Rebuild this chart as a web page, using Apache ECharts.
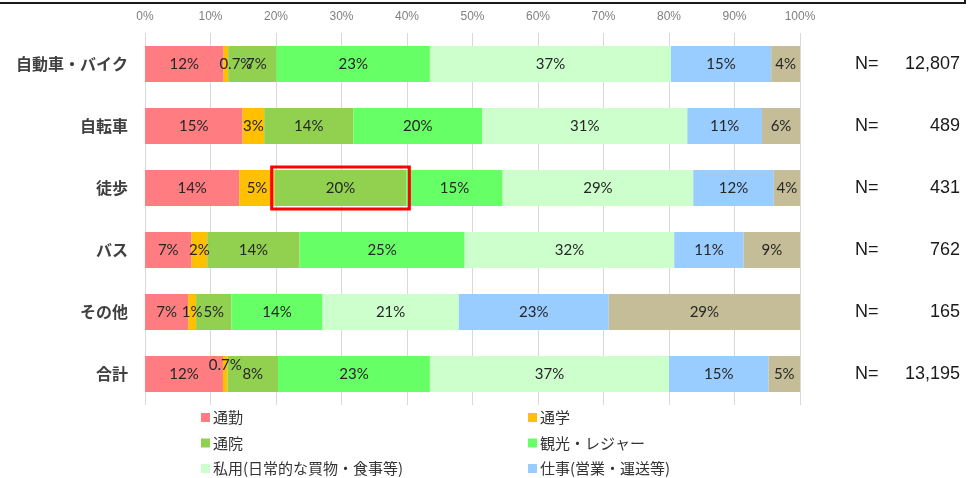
<!DOCTYPE html>
<html style="height: 100%">
    <head>
        <title>利用目的別 構成比</title>
        <script type="text/javascript" src="https://cdn.jsdelivr.net/npm/echarts@6.0.0/dist/echarts.min.js"></script>
    </head>
    <body style="height: 100%; margin: 0; background: #fff">
        <div id="target" style="width: 979px; height: 478px"></div>

<script type="text/javascript">
// categories (top to bottom)
const modes = ["自動車・バイク", "自転車", "徒歩", "バス", "その他", "合計"];
const sampleSizes = ["12,807", "489", "431", "762", "165", "13,195"];
const xTicks = [0, 10, 20, 30, 40, 50, 60, 70, 80, 90, 100];

// shares in %, one array per purpose, in the order of modes
const commute  = [12.0, 14.9, 14.4,  7.1,  6.6, 11.9];
const school   = [ 0.7,  3.3,  5.4,  2.4,  1.2,  0.7];
const hospital = [ 7.4, 13.6, 20.1, 14.1,  5.4,  7.7];
const leisure  = [23.4, 19.7, 14.7, 25.2, 13.9, 23.2];
const privateUse = [36.8, 31.3, 29.1, 32.0, 20.8, 36.5];
const business = [15.3, 11.4, 12.3, 10.6, 22.9, 15.2];
const otherUse = [ 4.4,  5.8,  4.0,  8.6, 29.2,  4.8];

const purposeNames = ["通勤", "通学", "通院", "観光・レジャー", "私用(日常的な買物・食事等)", "仕事(営業・運送等)", "その他"];
const purposeData = [commute, school, hospital, leisure, privateUse, business, otherUse];
const colors = ["#FF7C80", "#FFC000", "#92D050", "#66FF66", "#CCFFCC", "#99CCFF", "#C4BD97"];

// highlighted cell: 徒歩 / 通院
const highlightRow = 2;
const highlightSeries = 2;

// small nudges for the tiny-segment labels, "row,series" -> [dx, dy]
const labelNudge = {
    "0,1": [10, 0],
    "0,2": [4, 0],
    "5,1": [0, -9],
};

let chart = echarts.init(document.getElementById('target'));

let fmtPct = (v) => (v < 1 ? v.toFixed(1) : Math.round(v)) + "%";

let barSeries = purposeData.map((arr, s) => ({
    name: purposeNames[s],
    type: "bar",
    stack: "total",
    barWidth: 36,
    itemStyle: { color: colors[s] },
    label: {
        show: true,
        position: "inside",
        color: "#262626",
        fontSize: 15,
        fontFamily: "Lato",
        formatter: (p) => fmtPct(p.value),
    },
    data: arr.map((v, r) => {
        let nudge = labelNudge[r + "," + s];
        if (nudge) return { value: v, label: { offset: nudge } };
        return v;
    }),
}));

// red box around the highlighted segment
let hlStart = 0;
for (let s = 0; s < highlightSeries; s++) hlStart += purposeData[s][highlightRow];
let hlEnd = hlStart + purposeData[highlightSeries][highlightRow];

let boxSeries = {
    type: "custom",
    name: "highlight",
    z: 10,
    silent: true,
    encode: { x: [0, 1], y: 2 },
    data: [[hlStart, hlEnd, highlightRow]],
    renderItem: (params, api) => {
        let p0 = api.coord([api.value(0), api.value(2)]);
        let p1 = api.coord([api.value(1), api.value(2)]);
        let h = 42;
        return {
            type: "rect",
            shape: { x: p0[0] - 3, y: p0[1] - h / 2, width: p1[0] - p0[0] + 6, height: h },
            style: { fill: null, stroke: "#FF0000", lineWidth: 3 },
        };
    },
};

let legendBase = {
    orient: "vertical",
    top: 410,
    padding: 0,
    itemWidth: 9,
    itemHeight: 9,
    itemGap: 10.5,
    icon: "rect",
    textStyle: { fontSize: 15, lineHeight: 15, color: "#333333", padding: [0, 0, 0, -2] },
};

let option = {
    animation: false,
    backgroundColor: "#ffffff",
    textStyle: { fontFamily: "Noto Sans CJK JP" },
    grid: { left: 145, right: 179, top: 33, bottom: 73 },
    xAxis: {
        type: "value",
        position: "top",
        min: xTicks[0],
        max: xTicks[xTicks.length - 1],
        interval: xTicks[1] - xTicks[0],
        axisLine: { show: false },
        axisTick: { show: false },
        axisLabel: { formatter: "{value}%", color: "#808080", fontSize: 12, margin: 10, fontFamily: "Liberation Sans Narrow, Liberation Sans" },
        splitLine: { lineStyle: { color: "#D9D9D9", width: 1 } },
    },
    yAxis: [
        {
            type: "category",
            data: modes,
            inverse: true,
            axisLine: { show: false },
            axisTick: { show: false },
            axisLabel: { color: "#404040", fontSize: 16, fontWeight: "bold", margin: 17, fontFamily: "Noto Sans CJK JP" },
        },
        {
            type: "category",
            data: modes,
            inverse: true,
            position: "right",
            axisLine: { show: false },
            axisTick: { show: false },
            axisLabel: {
                margin: 55,
                align: "left",
                formatter: (v, i) => "{n|N=}{v|" + sampleSizes[i] + "}",
                rich: {
                    n: { fontSize: 18, color: "#1a1a1a", fontFamily: "Liberation Sans", width: 37 },
                    v: { fontSize: 18, color: "#1a1a1a", fontFamily: "Liberation Sans", width: 68, align: "right" },
                },
            },
        },
    ],
    legend: [
        Object.assign({}, legendBase, { left: 201, data: [purposeNames[0], purposeNames[2], purposeNames[4]] }),
        Object.assign({}, legendBase, { left: 528, data: [purposeNames[1], purposeNames[3], purposeNames[5]] }),
    ],
    graphic: [
        {
            type: "polyline",
            shape: { points: [[0, 3], [965, 3], [965, 0]] },
            style: { stroke: "#1a1a1a", lineWidth: 2, fill: null },
        },
    ],
    series: barSeries.concat([boxSeries]),
};

chart.setOption(option);
</script>
    </body>
</html>
